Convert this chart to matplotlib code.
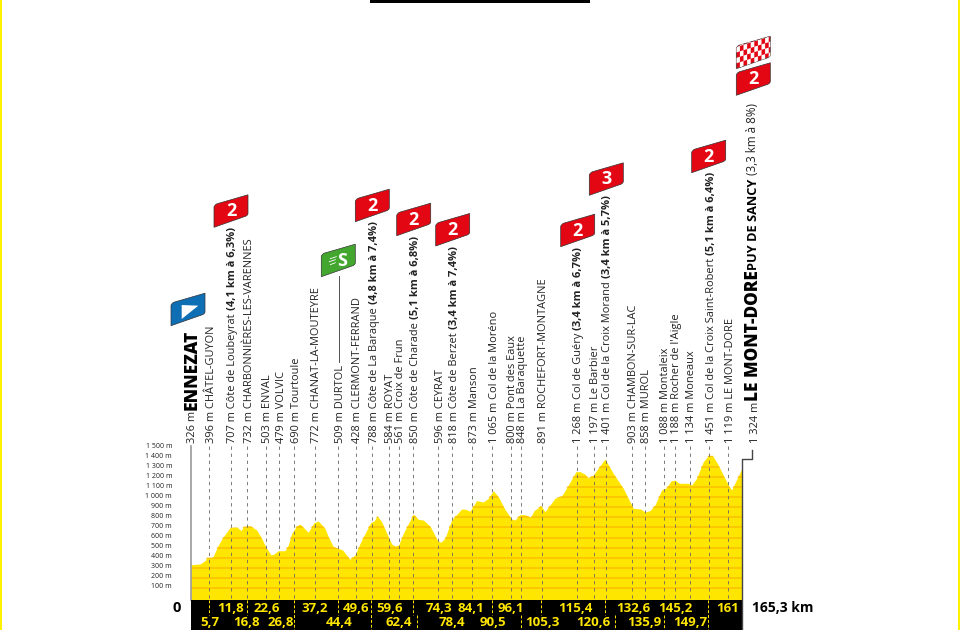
import matplotlib
matplotlib.use('Agg')
import matplotlib.pyplot as plt
from matplotlib.patches import Polygon, Rectangle, PathPatch
from matplotlib.path import Path

# profile
km = [0, 2.7, 4.2, 4.7, 6.5, 8.2, 9.7, 11.7, 13.9, 15, 15.7, 17.9, 19.7, 21.2, 22.5, 24, 24.7, 26.2, 28.2, 29.2,
      30.2, 31.7, 32.7, 33.7, 35.2, 36.9, 38.2, 40.2, 41.2, 42.7, 44.2, 45.5, 47.7, 49.2, 51.2, 53.9, 54.9, 55.9,
      57.2, 59.2, 60.2, 61.2, 62.3, 63.7, 66.7, 68.2, 69.7, 71.7, 73.9, 74.9, 76.2, 78.2, 81.2, 82.5, 83.7, 85.7,
      87.7, 89.2, 90.7, 92.2, 94.2, 96.2, 97.2, 98.7, 100.2, 101.9, 102.9, 105, 106.2, 109.2, 111.2, 113.2, 115.5,
      116.7, 118.2, 119.2, 120.7, 124.2, 126.7, 129.7, 132.7, 134.9, 136.2, 137.7, 139.2, 141.2, 142.7, 144, 145.2,
      146.5, 149.2, 150.2, 151.7, 153.7, 155.2, 156.5, 158.2, 161.2, 162.2, 165.3]
elev = [333, 340, 373, 402, 405, 527, 609, 698, 701, 668, 708, 714, 675, 593, 504, 429, 435, 471, 471, 527,
        642, 714, 734, 701, 652, 747, 763, 691, 609, 511, 494, 478, 386, 429, 576, 747, 763, 813,
        757, 609, 537, 517, 527, 642, 832, 780, 773, 714, 576, 553, 593, 773, 882, 878, 860, 964,
        951, 987, 1062, 1003, 878, 783, 773, 826, 826, 800, 865, 914, 855, 987, 1010, 1118, 1250,
        1250, 1226, 1187, 1217, 1374, 1233, 1085, 888, 882, 852, 865, 921, 1069, 1092, 1158, 1167,
        1135, 1135, 1118, 1184, 1348, 1407, 1407, 1315, 1118, 1069, 1282]

y_ticks = [100, 200, 300, 400, 500, 600, 700, 800, 900, 1000, 1100, 1200, 1300, 1400, 1500]
y_labels = ['100 m', '200 m', '300 m', '400 m', '500 m', '600 m', '700 m', '800 m', '900 m', '1 000 m',
            '1 100 m', '1 200 m', '1 300 m', '1 400 m', '1 500 m']

km_upper = [11.8, 22.6, 37.2, 49.6, 59.6, 74.3, 84.1, 96.1, 115.4, 132.6, 145.2, 161]
km_upper_txt = ['11,8', '22,6', '37,2', '49,6', '59,6', '74,3', '84,1', '96,1', '115,4', '132,6', '145,2', '161']
km_lower = [5.7, 16.8, 26.8, 44.4, 62.4, 78.4, 90.5, 105.3, 120.6, 135.9, 149.7]
km_lower_txt = ['5,7', '16,8', '26,8', '44,4', '62,4', '78,4', '90,5', '105,3', '120,6', '135,9', '149,7']

# waypoints: km position, plain text, bold text
labels = [
    (5.5, '396 m CHÂTEL-GUYON', ''),
    (11.9, '707 m Côte de Loubeyrat ', '(4,1 km à 6,3%)'),
    (16.9, '732 m CHARBONNIÈRES-LES-VARENNES', ''),
    (22.4, '503 m ENVAL', ''),
    (26.5, '479 m VOLVIC', ''),
    (31, '690 m Tourtoule', ''),
    (37.2, '772 m CHANAT-LA-MOUTEYRE', ''),
    (44.2, '509 m DURTOL', ''),
    (49.4, '428 m CLERMONT-FERRAND', ''),
    (54.4, '788 m Côte de La Baraque ', '(4,8 km à 7,4%)'),
    (59.4, '584 m ROYAT', ''),
    (62.4, '561 m Croix de Frun', ''),
    (66.7, '850 m Côte de Charade ', '(5,1 km à 6,8%)'),
    (74.2, '596 m CEYRAT', ''),
    (78.4, '818 m Côte de Berzet ', '(3,4 km à 7,4%)'),
    (84.4, '873 m Manson', ''),
    (90.4, '1 065 m Col de la Moréno', ''),
    (96, '800 m Pont des Eaux', ''),
    (99, '848 m La Baraquette', ''),
    (105.2, '891 m ROCHEFORT-MONTAGNE', ''),
    (115.7, '1 268 m Col de Guéry ', '(3,4 km à 6,7%)'),
    (120.9, '1 197 m Le Barbier', ''),
    (124.5, '1 401 m Col de la Croix Morand ', '(3,4 km à 5,7%)'),
    (132.2, '903 m CHAMBON-SUR-LAC', ''),
    (136.2, '858 m MUROL', ''),
    (141.9, '1 088 m Montaleix', ''),
    (145.2, '1 188 m Rocher de l\'Aigle', ''),
    (149.7, '1 134 m Moneaux', ''),
    (155.5, '1 451 m Col de la Croix Saint-Robert ', '(5,1 km à 6,4%)'),
    (161.2, '1 119 m LE MONT-DORE', ''),
]

badge_x = [171, 214, 321.3, 355.3, 396.7, 435.7, 560.7, 589.3, 691.7, 736.3, 736.3]
badge_y = [325.7, 227.3, 276.7, 221.7, 235.7, 246, 246.7, 195.3, 172.7, 95.3, 68.7]
badge_txt = ['', '2', 'S', '2', '2', '2', '2', '3', '2', '2', '']
badge_col = ['#0f6fb5', '#e30613', '#43a62e', '#e30613', '#e30613', '#e30613', '#e30613', '#e30613',
             '#e30613', '#e30613', '#e30613']

PX_KM = 3.333
X0 = 191
Y0 = 598.5
PX_M = 0.1015
YEL = '#ffe600'
BAND = '#fbc000'
LAB_SHIFT = 0.6  # rotated text sits left of its anchor, in km


def xkm(px):
    return (px - X0) / PX_KM


def ym(py):
    return (Y0 - py) / PX_M


def pt(a, b):
    return (xkm(a), ym(b))


def badge(ax, x, py, txt, col):
    """Slanted flag with its bottom left corner at pixel x, py."""
    verts = [pt(x, py), pt(x, py - 20), pt(x, py - 22), pt(x + 3, py - 23.5), pt(x + 34, py - 32.5),
             pt(x + 34, py - 14), pt(x + 34, py - 11.5), pt(x + 30, py - 10.5), pt(x, py), pt(x, py)]
    codes = [Path.MOVETO, Path.LINETO, Path.CURVE3, Path.CURVE3, Path.LINETO, Path.LINETO, Path.CURVE3,
             Path.CURVE3, Path.LINETO, Path.CLOSEPOLY]
    patch = PathPatch(Path(verts, codes), facecolor=col, edgecolor='#333333', linewidth=0.5, zorder=6)
    ax.add_patch(patch)
    if txt:
        dx = 21 if txt == 'S' else 17
        ax.text(xkm(x + dx), ym(py - 16), txt, color='white', fontsize=13, fontweight='bold', ha='center',
                va='center', zorder=7)
    return patch


fig = plt.figure(figsize=(9.6, 6.3), dpi=100)
ax = fig.add_axes([0, 0, 1, 1])
ax.set_xlim(xkm(0), xkm(960))
ax.set_ylim(ym(630), ym(0))
ax.axis('off')
plt.rcParams['font.family'] = ['Open Sans', 'DejaVu Sans']

# frame
ax.add_patch(Rectangle((xkm(0), ym(630)), xkm(2) - xkm(0), ym(0) - ym(630), color='#fff200', lw=0, zorder=8))
ax.add_patch(Rectangle((xkm(958), ym(630)), xkm(960) - xkm(958), ym(0) - ym(630), color='#fff200', lw=0, zorder=8))
ax.add_patch(Rectangle((xkm(370), ym(3)), xkm(590) - xkm(370), ym(0) - ym(3), color='black', lw=0, zorder=8))

# profile with the altitude bands clipped to it
base = ym(600)
ax.fill_between(km, elev, base, color=YEL, lw=0, zorder=2)
clip = Path(list(zip([0] + km + [165.3], [base] + elev + [base])))
for t in y_ticks:
    ln, = ax.plot([0, 165.3], [t, t], color=BAND, lw=1.1, zorder=3)
    ln.set_clip_path(PathPatch(clip, transform=ax.transData))

# y axis
ax.plot([0, 0], [base, 1500], color='#999999', lw=1.2, zorder=4)
for t, s in zip(y_ticks, y_labels):
    ax.text(xkm(172), t + 20 * (1500 - t) / 1400, s, fontsize=5, ha='right', va='center', color='#222222')

# finish line stub
ax.plot([165.3, 165.3, xkm(752), xkm(752)], [ym(630), ym(459), ym(459), ym(450)], color='#444444', lw=1, zorder=6)

# black km band
ax.add_patch(Rectangle((0, ym(630)), 165.3, base - ym(630), color='black', lw=0, zorder=4))
ax.text(xkm(177), ym(607.5), '0', fontsize=10.5, fontweight='bold', ha='center', va='center', color='black')
ax.text(xkm(783), ym(607.5), '165,3 km', fontsize=10, fontweight='bold', ha='center', va='center', color='black')
for k, s in zip(km_upper, km_upper_txt):
    ax.text(k, ym(608), s, color=YEL, fontsize=9.5, fontweight='bold', ha='center', va='center', zorder=5)
for k, s in zip(km_lower, km_lower_txt):
    ax.text(k, ym(622), s, color=YEL, fontsize=9.5, fontweight='bold', ha='center', va='center', zorder=5)

# dashed drop lines
for k, s, b in labels:
    ax.plot([k, k], [ym(446), base], color='#666666', lw=0.6, ls=(0, (4, 4.5)), zorder=3.5)
for k in [5.5, 16.7, 44.2, 66.5, 90.2, 105, 124.3]:
    ax.plot([k, k], [base, ym(615)], color=YEL, lw=0.7, ls=(0, (3, 2)), zorder=5)
for k in [31, 54.1, 155.2]:
    ax.plot([k, k], [base, ym(630)], color=YEL, lw=0.7, ls=(0, (3, 2)), zorder=5)
for k in [67.7, 98.9, 127.2, 141.9]:
    ax.plot([k, k], [ym(615), ym(630)], color=YEL, lw=0.7, ls=(0, (3, 2)), zorder=5)

# vertical labels
fig.canvas.draw()
rend = fig.canvas.get_renderer()
for k, plain, bold in labels:
    t = ax.text(k + LAB_SHIFT, ym(443), plain, rotation=90, fontsize=7.95, ha='center', va='bottom',
                color='#222222', zorder=5)
    if bold:
        top = t.get_window_extent(rend).y1
        ax.annotate(bold, xy=(k, 0), xycoords=('data', 'figure pixels'), xytext=(k + LAB_SHIFT, top),
                    textcoords=('data', 'figure pixels'), rotation=90, fontsize=8, fontweight='bold',
                    ha='center', va='bottom', color='#222222', zorder=5)

# start and finish
ax.text(LAB_SHIFT, ym(443), '326 m', rotation=90, fontsize=7.95, ha='center', va='bottom', color='#222222')
ax.text(0.3, ym(410), 'ENNEZAT', rotation=90, fontsize=12.5, fontweight=800, ha='center', va='bottom',
        color='black')
ax.text(xkm(755), ym(443), '1 324 m', rotation=90, fontsize=7.95, ha='center', va='bottom', color='#222222')
ax.text(xkm(754), ym(401), 'LE MONT-DORE', rotation=90, fontsize=12.3, fontweight=800, ha='center', va='bottom',
        color='black')
ax.text(xkm(753.5), ym(270), 'PUY DE SANCY', rotation=90, fontsize=9.2, fontweight='bold', ha='center', va='bottom',
        color='black')
ax.text(xkm(753), ym(175), '(3,3 km à 8%)', rotation=90, fontsize=8.4, ha='center', va='bottom', color='#222222')

# badges on top
patches = [badge(ax, x, y, s, c) for x, y, s, c in zip(badge_x, badge_y, badge_txt, badge_col)]

# start triangle
x, y = badge_x[0], badge_y[0]
ax.add_patch(Polygon([pt(x + 10.7, y - 20.7), pt(x + 27.3, y - 20), pt(x + 10.7, y - 6.7)], color='white', lw=0,
                     zorder=7))

# sprint speed lines
x, y = badge_x[2], badge_y[2]
for i, (a, b) in enumerate([(9, 15), (8, 14), (9, 14)]):
    ax.plot([xkm(x + a), xkm(x + b)], [ym(y - 18 + i * 3), ym(y - 20 + i * 3)], color='white', lw=0.6, zorder=7)

# checker flag
x, y = badge_x[10], badge_y[10]
for i in range(10):
    for j in range(-1, 7):
        if (i + j) % 2:
            c = Polygon([pt(x + i * 3.6, y - j * 5.4 - i * 1.15), pt(x + (i + 1) * 3.6, y - j * 5.4 - (i + 1) * 1.15),
                         pt(x + (i + 1) * 3.6, y - (j + 1) * 5.4 - (i + 1) * 1.15),
                         pt(x + i * 3.6, y - (j + 1) * 5.4 - i * 1.15)], color='white', lw=0, zorder=7)
            ax.add_patch(c)
            c.set_clip_path(patches[10])

# sprint line
ax.plot([xkm(339), xkm(339)], [ym(276), ym(362)], color='#333333', lw=0.6)

fig.savefig('out.png', dpi=100)
